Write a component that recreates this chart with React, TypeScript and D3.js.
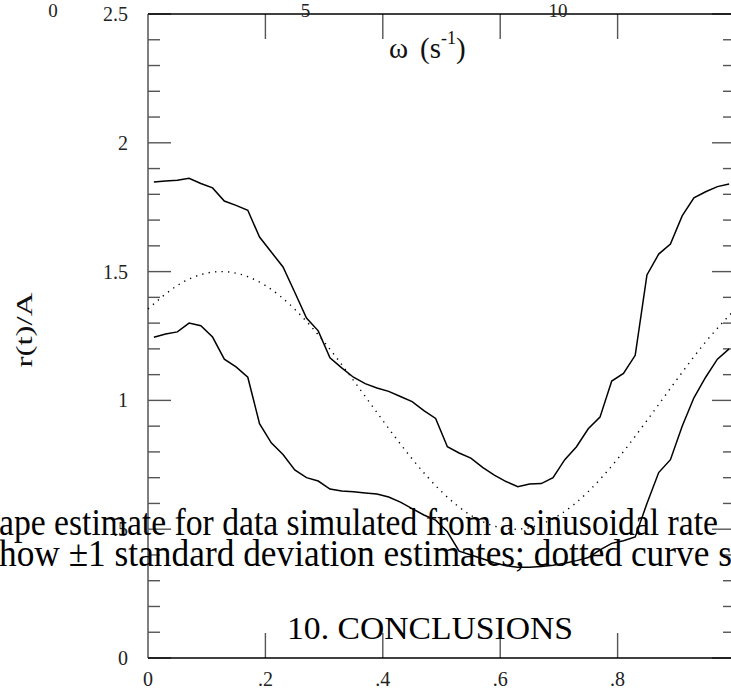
import React from 'react';
import * as d3 from 'd3';

const W = 731;
const H = 688;

// bin centres (phase t) of the shape estimate
const binPhase = [
  0.01, 0.03, 0.05, 0.07, 0.09, 0.11, 0.13, 0.15, 0.17, 0.19,
  0.21, 0.23, 0.25, 0.27, 0.29, 0.31, 0.33, 0.35, 0.37, 0.39,
  0.41, 0.43, 0.45, 0.47, 0.49, 0.51, 0.53, 0.55, 0.57, 0.59,
  0.61, 0.63, 0.65, 0.67, 0.69, 0.71, 0.73, 0.75, 0.77, 0.79,
  0.81, 0.83, 0.85, 0.87, 0.89, 0.91, 0.93, 0.95, 0.97, 0.99,
];

// +1 sd estimate
const upperBand = [
  1.848, 1.852, 1.855, 1.862, 1.842, 1.825, 1.774, 1.757, 1.738, 1.634,
  1.576, 1.518, 1.42, 1.32, 1.27, 1.165, 1.126, 1.09, 1.065, 1.048,
  1.035, 1.015, 0.995, 0.96, 0.93, 0.82, 0.796, 0.776, 0.74, 0.71,
  0.685, 0.665, 0.675, 0.677, 0.7, 0.77, 0.82, 0.89, 0.935, 1.075,
  1.105, 1.175, 1.487, 1.568, 1.607, 1.716, 1.786, 1.81, 1.83, 1.84,
];

// -1 sd estimate
const lowerBand = [
  1.245, 1.258, 1.266, 1.3, 1.29, 1.246, 1.16, 1.13, 1.09, 0.91,
  0.835, 0.79, 0.73, 0.7, 0.687, 0.656, 0.648, 0.645, 0.641, 0.637,
  0.625, 0.605, 0.58, 0.555, 0.535, 0.49, 0.415, 0.4, 0.385, 0.37,
  0.358, 0.352, 0.352, 0.355, 0.36, 0.368, 0.378, 0.39, 0.42, 0.445,
  0.455, 0.47, 0.6, 0.72, 0.77, 0.9, 1.01, 1.09, 1.16, 1.2,
];

// true rate (dotted)
const truePhase = [
  0, 0.05, 0.1, 0.15, 0.2, 0.25, 0.3, 0.35, 0.4, 0.45, 0.5,
  0.55, 0.6, 0.65, 0.7, 0.75, 0.8, 0.85, 0.9, 0.95, 1,
];
const trueRate = [
  1.355, 1.446, 1.494, 1.494, 1.446, 1.354, 1.227, 1.078, 0.922, 0.773, 0.646,
  0.554, 0.506, 0.506, 0.554, 0.646, 0.773, 0.922, 1.078, 1.227, 1.354,
];

const phaseTicks = [0.2, 0.4, 0.6, 0.8];
const phaseLabels = [0, 0.2, 0.4, 0.6, 0.8];
const omegaLabels = [0, 5, 10];

const captionLines = [
  'ape estimate for data simulated from a sinusoidal rate',
  'how \u00b11 standard deviation estimates; dotted curve s',
];
const sectionTitle = '10. CONCLUSIONS';

const serif = "'Liberation Serif', 'Times New Roman', 'DejaVu Serif', serif";

const fmt = (v: number) => d3.format('~g')(v).replace(/^0\./, '.');

export default function App() {
  const x = d3.scaleLinear().domain([0, 1]).range([148, 735]);
  const y = d3.scaleLinear().domain([0, 2.5]).range([658, 14]);
  const omega = d3.scaleLinear().domain([0, 10]).range([53, 558]);

  const band = d3
    .line<number>()
    .x((_, i) => x(binPhase[i]))
    .y((d) => y(d));

  const smooth = d3
    .line<number>()
    .x((_, i) => x(truePhase[i]))
    .y((d) => y(d))
    .curve(d3.curveNatural);

  const yTicks = y.ticks(25);
  const isMajor = (v: number) => Math.abs(v * 2 - Math.round(v * 2)) < 1e-6;
  const [x0, x1] = x.range();
  const [yb, yt] = y.range();

  const txt = { fontFamily: serif };

  return (
    <svg
      width={W}
      height={H}
      style={{ position: 'absolute', left: 0, top: 0, background: '#fff' }}
    >
      <rect width={W} height={H} fill="#fff" />

      {/* y ticks, both sides */}
      {yTicks.map((v) => {
        const len = isMajor(v) ? 23 : 12;
        return (
          <g key={v} stroke="#555" strokeWidth={1.4}>
            <line x1={x0} x2={x0 + len} y1={y(v)} y2={y(v)} />
            <line x1={x1 - len} x2={x1} y1={y(v)} y2={y(v)} />
          </g>
        );
      })}
      {/* x ticks, top and bottom */}
      {phaseTicks.map((v) => (
        <g key={v} stroke="#555" strokeWidth={1.4}>
          <line x1={x(v)} x2={x(v)} y1={yb} y2={yb - 25} />
          <line x1={x(v)} x2={x(v)} y1={yt} y2={yt + 25} />
        </g>
      ))}

      {/* frame */}
      <line x1={x0} x2={x0} y1={yt} y2={yb} stroke="#555" strokeWidth={1.5} />
      <line x1={x1} x2={x1} y1={yt} y2={yb} stroke="#555" strokeWidth={1.5} />
      <line x1={x0} x2={x1} y1={yt} y2={yt} stroke="#000" strokeWidth={1.5} />
      <line x1={x0} x2={x1} y1={yb} y2={yb} stroke="#000" strokeWidth={1.5} />

      {/* curves */}
      <path d={band(upperBand) ?? ''} fill="none" stroke="#000" strokeWidth={1.5} />
      <path d={band(lowerBand) ?? ''} fill="none" stroke="#000" strokeWidth={1.5} />
      <path
        d={smooth(trueRate) ?? ''}
        fill="none"
        stroke="#000"
        strokeWidth={1.4}
        strokeDasharray="1.3 5.2"
      />

      {/* y labels */}
      {yTicks.filter(isMajor).map((v) => (
        <text
          key={v}
          x={128}
          y={y(v) + 7}
          textAnchor="end"
          fontSize={20}
          fill="#222"
          style={txt}
        >
          {fmt(v)}
        </text>
      ))}
      {/* bottom labels */}
      {phaseLabels.map((v) => (
        <text key={v} x={x(v)} y={686} textAnchor="middle" fontSize={20} fill="#222" style={txt}>
          {fmt(v)}
        </text>
      ))}
      {/* top omega labels */}
      {omegaLabels.map((v) => (
        <text key={v} x={omega(v)} y={17} textAnchor="middle" fontSize={19} fill="#222" style={txt}>
          {v}
        </text>
      ))}

      {/* axis titles */}
      <text x={389} y={58} fontSize={29} fill="#111" style={txt}>
        <tspan>{'\u03c9'}</tspan>
        <tspan dx={12}>(s</tspan>
        <tspan dy={-14} fontSize={18}>
          -1
        </tspan>
        <tspan dy={14}>)</tspan>
      </text>
      <text
        transform="translate(32,330) rotate(-90)"
        textAnchor="middle"
        fontSize={23}
        fill="#111"
        textLength={75}
        lengthAdjust="spacingAndGlyphs"
        style={txt}
      >
        r(t)/A
      </text>

      {/* overprinted page text */}
      <text
        x={-1}
        y={535}
        fontSize={37}
        fill="#000"
        textLength={719}
        lengthAdjust="spacingAndGlyphs"
        style={txt}
      >
        {captionLines[0]}
      </text>
      <text
        x={-1}
        y={566}
        fontSize={37}
        fill="#000"
        textLength={733}
        lengthAdjust="spacingAndGlyphs"
        style={txt}
      >
        {captionLines[1]}
      </text>
      <text
        x={287}
        y={639}
        fontSize={32}
        fill="#000"
        textLength={286}
        lengthAdjust="spacingAndGlyphs"
        style={txt}
      >
        {sectionTitle}
      </text>
    </svg>
  );
}
